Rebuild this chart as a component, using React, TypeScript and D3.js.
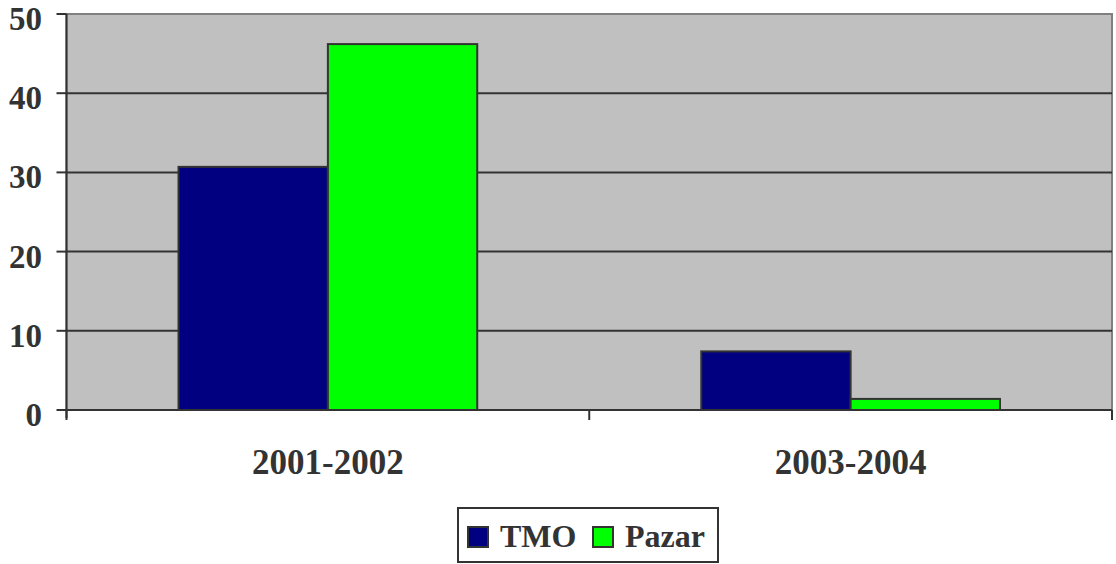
import React from 'react';
import * as d3 from 'd3';

const categories = ['2001-2002', '2003-2004'];
const seriesNames = ['TMO', 'Pazar'];
const tmoValues = [30.7, 7.4];
const pazarValues = [46.2, 1.4];
const yTicks = [0, 10, 20, 30, 40, 50];

const colors: Record<string, string> = { TMO: '#000080', Pazar: '#00FF00' };
const seriesValues: Record<string, number[]> = { TMO: tmoValues, Pazar: pazarValues };

const W = 1116;
const H = 564;
const left = 66.5;
const right = 1112;
const top = 14;
const bottom = 410;
const font = '"Liberation Serif", "Times New Roman", serif';
const textColor = '#333333';

export default function App() {
  const x0 = d3.scaleBand<string>().domain(categories).range([left, right]).padding(0);
  const x1 = d3
    .scaleBand<string>()
    .domain(seriesNames)
    .range([0, x0.bandwidth()])
    .paddingInner(0)
    .paddingOuter(0.75);
  const y = d3.scaleLinear().domain([0, 50]).range([bottom, top]);

  // tick positions on x axis: category boundaries
  const xBoundaries = [left, ...categories.map((c) => (x0(c) as number) + x0.bandwidth())];

  // legend layout
  const legX = 458;
  const legY = 508;
  const legW = 260;
  const legH = 54;
  const sw = 20;
  const itemX = [468, 593];

  return (
    <div style={{ position: 'absolute', left: 0, top: 0 }}>
      <svg width={W} height={H} style={{ display: 'block', background: '#ffffff' }}>
        {/* plot area */}
        <rect x={left} y={y(50)} width={right - left} height={bottom - y(50)} fill="#C0C0C0" stroke="#808080" strokeWidth={2} />

        {/* gridlines */}
        {yTicks.filter((t) => t > 0 && t < 50).map((t) => (
          <line key={'g' + t} x1={left} x2={right} y1={y(t)} y2={y(t)} stroke="#333333" strokeWidth={2} />
        ))}

        {/* bars */}
        {categories.map((c, i) => (
          <g key={c} transform={`translate(${x0(c)},0)`}>
            {seriesNames.map((s) => {
              const v = seriesValues[s][i];
              return (
                <rect
                  key={s}
                  x={x1(s)}
                  y={y(v)}
                  width={x1.bandwidth()}
                  height={y(0) - y(v)}
                  fill={colors[s]}
                  stroke="#333333"
                  strokeWidth={2}
                />
              );
            })}
          </g>
        ))}

        {/* y axis */}
        <line x1={left} x2={left} y1={y(50)} y2={bottom + 8} stroke="#333333" strokeWidth={2} />
        {yTicks.map((t) => (
          <g key={'y' + t}>
            <line x1={left - 10} x2={left} y1={y(t)} y2={y(t)} stroke="#333333" strokeWidth={2} />
            <text
              x={42}
              y={y(t) + 5}
              textAnchor="end"
              dominantBaseline="central"
              fontFamily={font}
              fontWeight="bold"
              fontSize={33}
              fill={textColor}
            >
              {t}
            </text>
          </g>
        ))}

        {/* x axis */}
        <line x1={left} x2={right} y1={bottom} y2={bottom} stroke="#333333" strokeWidth={2} />
        {xBoundaries.map((bx, i) => (
          <line key={'xt' + i} x1={bx} x2={bx} y1={bottom} y2={bottom + 10} stroke="#333333" strokeWidth={2} />
        ))}
        {categories.map((c) => (
          <text
            key={'xl' + c}
            x={(x0(c) as number) + x0.bandwidth() / 2}
            y={474}
            textAnchor="middle"
            fontFamily={font}
            fontWeight="bold"
            fontSize={35}
            fill={textColor}
          >
            {c}
          </text>
        ))}

        {/* legend */}
        <rect x={legX} y={legY} width={legW} height={legH} fill="#ffffff" stroke="#333333" strokeWidth={2} />
        {seriesNames.map((s, i) => (
          <g key={'lg' + s}>
            <rect x={itemX[i]} y={527} width={sw} height={sw} fill={colors[s]} stroke="#333333" strokeWidth={2} />
            <text
              x={itemX[i] + 32}
              y={547}
              fontFamily={font}
              fontWeight="bold"
              fontSize={32}
              fill={textColor}
            >
              {s}
            </text>
          </g>
        ))}
      </svg>
    </div>
  );
}
